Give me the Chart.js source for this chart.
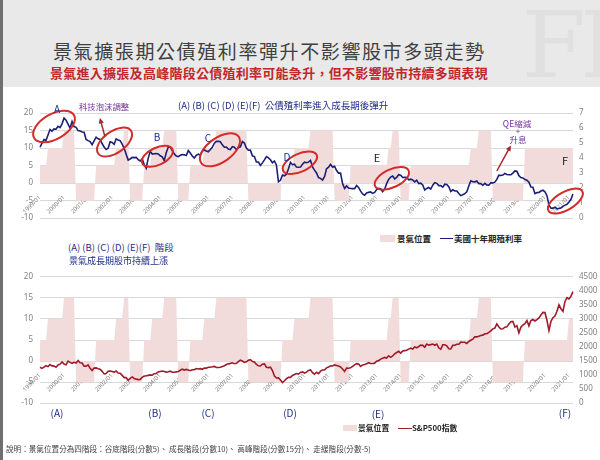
<!DOCTYPE html>
<html>
<head>
<meta charset="utf-8">
<script src="https://cdn.jsdelivr.net/npm/chart.js@4.4.0/dist/chart.umd.min.js"></script>
<style>
  body { margin: 0; width: 600px; height: 460px; overflow: hidden; background: #fff; position: relative;
         font-family: "Noto Sans CJK TC", "Noto Sans", sans-serif; }
  #band { position: absolute; left: 0; top: 0; width: 600px; height: 87px; background: #e9e9e9; }
  #edge { position: absolute; left: 0; top: 0; width: 3px; height: 460px; background: #6f6f6f; }
  #mark { position: absolute; left: 522px; top: -8px; font: 92px "DejaVu Serif", serif; color: rgba(0,0,0,0.035); letter-spacing: -6px; }
  .t { position: absolute; white-space: nowrap; line-height: 1; transform: translateY(-50%); }
  .c { transform: translate(-50%, -50%); }
  .navy { color: #1f2d86; }
  .purple { color: #7030a0; }
  .leg { font-weight: bold; color: #262626; }
  canvas { position: absolute; left: 0; }
</style>
</head>
<body>
<div id="band"></div>
<div id="mark">FH</div>
<div id="edge"></div>

<div class="t" style="left:53px;top:50px;font-size:19px;letter-spacing:1.6px;color:#404040">景氣擴張期公債殖利率彈升不影響股市多頭走勢</div>
<div class="t" style="left:50px;top:71.5px;font-size:13px;font-weight:bold;letter-spacing:0.27px;color:#c1272d">景氣進入擴張及高峰階段公債殖利率可能急升，但不影響股市持續多頭表現</div>

<canvas id="top-chart" width="600" height="130" style="top:100px"></canvas>
<canvas id="bottom-chart" width="600" height="150" style="top:265px"></canvas>

<!-- top chart notes -->
<div class="t navy" style="left:178px;top:106px;font-size:9.5px">(A) (B) (C) (D) (E)(F)&nbsp; 公債殖利率進入成長期後彈升</div>
<div class="t purple" style="left:79px;top:106px;font-size:8.4px">科技泡沫調整</div>
<div class="t c navy" style="left:57px;top:109px;font-size:10px">A</div>
<div class="t c navy" style="left:157px;top:137px;font-size:10px">B</div>
<div class="t c navy" style="left:208px;top:138px;font-size:10px">C</div>
<div class="t c navy" style="left:287px;top:157px;font-size:10px">D</div>
<div class="t c" style="left:377px;top:157px;font-size:11px;color:#222">E</div>
<div class="t c" style="left:565px;top:160px;font-size:11px;color:#222">F</div>
<div class="t c purple" style="left:517px;top:123px;font-size:8.5px">QE縮減</div>
<div class="t c purple" style="left:518px;top:131px;font-size:8px">+</div>
<div class="t c purple" style="left:518px;top:139px;font-size:8.5px">升息</div>

<div style="position:absolute;left:380px;top:235px;width:15px;height:7px;background:#f2dcdb"></div>
<div class="t leg" style="left:397px;top:238px;font-size:8.5px">景氣位置</div>
<div style="position:absolute;left:440px;top:237.5px;width:13px;height:1.6px;background:#1a1f78"></div>
<div class="t leg" style="left:454px;top:238px;font-size:8.5px">美國十年期殖利率</div>

<!-- bottom chart notes -->
<div class="t navy" style="left:68px;top:248px;font-size:9.5px">(A) (B) (C) (D) (E)(F)&nbsp; 階段</div>
<div class="t navy" style="left:69px;top:260px;font-size:9px">景氣成長期股市持續上漲</div>
<div class="t c navy" style="left:57px;top:413px;font-size:10px">(A)</div>
<div class="t c navy" style="left:155px;top:413px;font-size:10px">(B)</div>
<div class="t c navy" style="left:208px;top:413px;font-size:10px">(C)</div>
<div class="t c navy" style="left:290px;top:413px;font-size:10px">(D)</div>
<div class="t c navy" style="left:378px;top:414px;font-size:10px">(E)</div>
<div class="t c navy" style="left:565px;top:413px;font-size:10px">(F)</div>

<div style="position:absolute;left:343px;top:425px;width:14px;height:6px;background:#f2dcdb"></div>
<div class="t leg" style="left:358px;top:428px;font-size:7.8px">景氣位置</div>
<div style="position:absolute;left:398px;top:427.5px;width:14px;height:1.6px;background:#9e1b2a"></div>
<div class="t leg" style="left:412px;top:428px;font-size:7.8px">S&amp;P500指數</div>

<div class="t" style="left:6px;top:449px;font-size:7.6px;color:#404040">說明：景氣位置分為四階段：谷底階段(分數5)、 成長階段(分數10)、 高峰階段(分數15分)、 走緩階段(分數-5)</div>

<script>
// monthly categories 1999/01 .. 2021/03
const months = [];
for (let y = 1999; y <= 2021; y++) {
  for (let m = 1; m <= 12; m++) {
    if (y === 2021 && m > 3) break;
    months.push(`${y}/${String(m).padStart(2, '0')}`);
  }
}

// US 10y treasury yield, monthly (%)
const yield10y = [
  4.72, 5.00, 5.23, 5.18, 5.54, 5.90, 5.79, 5.94, 5.92, 6.11, 6.03, 6.28,
  6.66, 6.52, 6.26, 5.99, 6.44, 6.10, 6.05, 5.83, 5.80, 5.74, 5.72, 5.24,
  5.16, 5.10, 4.89, 5.14, 5.39, 5.28, 5.24, 4.97, 4.73, 4.57, 4.65, 5.09,
  5.04, 4.91, 5.28, 5.21, 5.16, 4.93, 4.65, 4.26, 3.87, 3.94, 4.05, 4.03,
  4.05, 3.90, 3.81, 3.96, 3.57, 3.33, 3.98, 4.45, 4.27, 4.29, 4.30, 4.27,
  4.15, 4.08, 3.83, 4.35, 4.72, 4.73, 4.50, 4.28, 4.13, 4.10, 4.19, 4.23,
  4.22, 4.17, 4.50, 4.34, 4.14, 4.00, 4.18, 4.26, 4.20, 4.46, 4.54, 4.47,
  4.42, 4.57, 4.72, 4.99, 5.11, 5.11, 5.09, 4.88, 4.72, 4.73, 4.60, 4.56,
  4.76, 4.72, 4.56, 4.69, 4.75, 5.10, 5.00, 4.67, 4.52, 4.53, 4.15, 4.10,
  3.74, 3.74, 3.51, 3.68, 3.88, 4.10, 4.01, 3.89, 3.69, 3.81, 3.53, 2.42,
  2.52, 2.87, 2.82, 2.93, 3.29, 3.72, 3.56, 3.59, 3.40, 3.39, 3.40, 3.59,
  3.73, 3.69, 3.73, 3.85, 3.42, 3.20, 3.01, 2.70, 2.65, 2.54, 2.76, 3.29,
  3.39, 3.58, 3.41, 3.46, 3.17, 3.00, 3.00, 2.30, 1.98, 2.15, 2.01, 1.98,
  1.97, 1.97, 2.17, 2.05, 1.80, 1.62, 1.53, 1.68, 1.72, 1.75, 1.65, 1.72,
  1.91, 1.98, 1.96, 1.76, 1.93, 2.30, 2.58, 2.74, 2.81, 2.62, 2.72, 2.90,
  2.86, 2.71, 2.72, 2.71, 2.56, 2.60, 2.54, 2.42, 2.53, 2.30, 2.33, 2.21,
  1.88, 1.98, 2.04, 1.94, 2.20, 2.36, 2.32, 2.17, 2.17, 2.07, 2.26, 2.24,
  2.09, 1.78, 1.89, 1.81, 1.81, 1.64, 1.50, 1.56, 1.63, 1.76, 2.14, 2.49,
  2.43, 2.42, 2.48, 2.30, 2.30, 2.19, 2.32, 2.21, 2.20, 2.36, 2.35, 2.40,
  2.58, 2.86, 2.84, 2.87, 2.98, 2.91, 2.89, 2.89, 3.00, 3.15, 3.12, 2.83,
  2.71, 2.68, 2.57, 2.53, 2.40, 2.07, 2.06, 1.63, 1.70, 1.71, 1.81, 1.86,
  1.76, 1.50, 0.87, 0.66, 0.67, 0.73, 0.62, 0.65, 0.68, 0.79, 0.87, 0.93,
  1.08, 1.26, 1.61
];

// S&P 500, monthly
const sp500 = [
  1279, 1238, 1286, 1335, 1302, 1373, 1329, 1320, 1283, 1363, 1389, 1469,
  1394, 1366, 1499, 1452, 1421, 1455, 1431, 1518, 1437, 1429, 1315, 1320,
  1366, 1240, 1160, 1249, 1256, 1224, 1211, 1134, 1041, 1060, 1139, 1148,
  1130, 1107, 1147, 1076, 1067, 990, 912, 916, 815, 886, 936, 880,
  856, 841, 848, 917, 964, 975, 990, 1008, 996, 1051, 1058, 1112,
  1131, 1145, 1126, 1107, 1121, 1141, 1102, 1104, 1115, 1130, 1174, 1212,
  1181, 1204, 1181, 1157, 1192, 1191, 1234, 1220, 1229, 1207, 1249, 1248,
  1280, 1281, 1295, 1311, 1270, 1270, 1277, 1304, 1336, 1378, 1401, 1418,
  1438, 1407, 1421, 1482, 1531, 1503, 1455, 1474, 1527, 1549, 1481, 1468,
  1378, 1331, 1323, 1386, 1400, 1280, 1267, 1283, 1165, 969, 896, 903,
  826, 735, 798, 873, 919, 919, 987, 1021, 1057, 1036, 1096, 1115,
  1074, 1104, 1169, 1187, 1089, 1031, 1102, 1049, 1141, 1183, 1181, 1258,
  1286, 1327, 1326, 1364, 1345, 1321, 1292, 1219, 1131, 1253, 1247, 1258,
  1312, 1366, 1408, 1398, 1310, 1362, 1379, 1407, 1441, 1412, 1416, 1426,
  1498, 1515, 1569, 1598, 1631, 1606, 1686, 1633, 1682, 1757, 1806, 1848,
  1783, 1859, 1872, 1884, 1924, 1960, 1931, 2003, 1972, 2018, 2068, 2059,
  1995, 2105, 2068, 2086, 2107, 2063, 2104, 1972, 1920, 2079, 2080, 2044,
  1940, 1932, 2060, 2065, 2097, 2099, 2174, 2171, 2168, 2126, 2199, 2239,
  2279, 2364, 2363, 2384, 2412, 2423, 2470, 2472, 2519, 2575, 2648, 2674,
  2824, 2714, 2641, 2648, 2705, 2718, 2816, 2902, 2914, 2711, 2760, 2507,
  2704, 2784, 2834, 2946, 2752, 2942, 2980, 2926, 2977, 3038, 3141, 3231,
  3226, 2954, 2585, 2912, 3044, 3100, 3271, 3500, 3363, 3270, 3622, 3756,
  3714, 3811, 3973
];

// business-cycle position: [score, number of months]
const phaseRunsBottom = [
  [5, 4], [10, 8], [15, 6], [-5, 10], [5, 10], [10, 4], [15, 3], [-5, 7],
  [5, 4], [10, 6], [15, 7], [-5, 6], [5, 7], [10, 6], [15, 16], [-5, 17],
  [5, 6], [10, 8], [15, 12], [-5, 8], [5, 19], [10, 2], [15, 4], [-5, 5],
  [5, 30], [10, 4], [15, 7], [-5, 16], [5, 22], [10, 3]
];
// the upper chart ends with a single growth block
const phaseRunsTop = phaseRunsBottom.slice(0, -2).concat([[10, 25]]);

const leftTicks = [-10, 20, 5];
const yieldTicks = [0, 7, 1];
const spTicks = [0, 4500, 500];

// red circles and arrows on the yield chart: [month index, yield]
const rings = [
  { i: 7.0, v: 6.10, rx: 23, ry: 12.5, rot: -30 },
  { i: 37.2, v: 5.07, rx: 20, ry: 10.8, rot: -35 },
  { i: 58.6, v: 4.12, rx: 16.6, ry: 8.6, rot: -25 },
  { i: 89.8, v: 4.55, rx: 22.9, ry: 12.2, rot: -35 },
  { i: 129.7, v: 3.69, rx: 18.5, ry: 9, rot: -25 },
  { i: 175.6, v: 2.65, rx: 18.5, ry: 9, rot: -25 },
  { i: 262.2, v: 1.14, rx: 19.5, ry: 9, rot: -30 }
];
const arrows = [
  { from: [32.4, 5.43], to: [29.9, 6.67] },
  { from: [228, 3.14], to: [235, 4.84] }
];

const PINK = '#f2dcdb';
const GRID = '#d9d9d9';
const TICK = '#808080';

function expandRuns(runs) {
  const out = [];
  runs.forEach(([level, n]) => { for (let k = 0; k < n; k++) out.push(level); });
  return out;
}

const marksPlugin = {
  id: 'marks',
  afterDatasetsDraw(chart, args, opts) {
    if (!opts.rings) return;
    const { ctx, scales } = chart;
    const px = i => scales.x.getPixelForValue(i);
    const py = v => scales.yR.getPixelForValue(v);
    ctx.save();
    ctx.strokeStyle = '#d42b2b';
    ctx.lineWidth = 2;
    opts.rings.forEach(r => {
      ctx.beginPath();
      ctx.ellipse(px(r.i), py(r.v), r.rx, r.ry, r.rot * Math.PI / 180, 0, Math.PI * 2);
      ctx.stroke();
    });
    ctx.strokeStyle = '#a8232b';
    ctx.fillStyle = '#a8232b';
    ctx.lineWidth = 1.5;
    opts.arrows.forEach(a => {
      const x0 = px(a.from[0]), y0 = py(a.from[1]);
      const x1 = px(a.to[0]), y1 = py(a.to[1]);
      const ang = Math.atan2(y1 - y0, x1 - x0);
      ctx.beginPath();
      ctx.moveTo(x0, y0);
      ctx.lineTo(x1 - 4 * Math.cos(ang), y1 - 4 * Math.sin(ang));
      ctx.stroke();
      ctx.beginPath();
      ctx.moveTo(x1, y1);
      ctx.lineTo(x1 - 6 * Math.cos(ang - 0.45), y1 - 6 * Math.sin(ang - 0.45));
      ctx.lineTo(x1 - 6 * Math.cos(ang + 0.45), y1 - 6 * Math.sin(ang + 0.45));
      ctx.closePath();
      ctx.fill();
    });
    ctx.restore();
  }
};

function chartOptions(rightTicks, padTop, padBottom, marks) {
  const tickFont = { family: 'Noto Sans', size: 8 };
  return {
    responsive: false,
    animation: false,
    events: [],
    layout: { padding: { top: padTop, bottom: padBottom, left: 0, right: 0 } },
    plugins: { legend: { display: false }, tooltip: { enabled: false }, marks: marks },
    scales: {
      x: {
        position: { y: 0 },
        grid: { display: false },
        border: { display: false },
        ticks: {
          autoSkip: false, minRotation: 45, maxRotation: 45, padding: 3,
          color: TICK, font: { family: 'Noto Sans', size: 6 },
          callback: (v, i) => months[i].endsWith('/01') ? months[i] : ''
        }
      },
      y: {
        position: 'left', min: leftTicks[0], max: leftTicks[1],
        ticks: { stepSize: leftTicks[2], padding: 7, color: TICK, font: tickFont },
        grid: { color: GRID, drawTicks: false },
        border: { display: false },
        afterFit: s => { s.width = 40; }
      },
      yR: {
        position: 'right', min: rightTicks[0], max: rightTicks[1],
        ticks: { stepSize: rightTicks[2], padding: 6, color: TICK, font: tickFont, callback: v => String(v) },
        grid: { display: false, drawTicks: false },
        border: { display: false },
        afterFit: s => { s.width = 27; }
      }
    }
  };
}

new Chart(document.getElementById('top-chart'), {
  type: 'line',
  data: {
    labels: months,
    datasets: [
      { label: '美國十年期殖利率', data: yield10y, yAxisID: 'yR', borderColor: '#1a1f78',
        borderWidth: 1.6, pointRadius: 0, tension: 0, order: 1 },
      { label: '景氣位置', data: expandRuns(phaseRunsTop), yAxisID: 'y', borderWidth: 0,
        backgroundColor: PINK, fill: 'origin', pointRadius: 0, order: 2 }
    ]
  },
  options: chartOptions(yieldTicks, 13, 10, { rings: rings, arrows: arrows }),
  plugins: [marksPlugin]
});

new Chart(document.getElementById('bottom-chart'), {
  type: 'line',
  data: {
    labels: months,
    datasets: [
      { label: 'S&P500指數', data: sp500, yAxisID: 'yR', borderColor: '#9e1b2a',
        borderWidth: 1.6, pointRadius: 0, tension: 0, order: 1 },
      { label: '景氣位置', data: expandRuns(phaseRunsBottom), yAxisID: 'y', borderWidth: 0,
        backgroundColor: PINK, fill: 'origin', pointRadius: 0, order: 2 }
    ]
  },
  options: chartOptions(spTicks, 11, 9, {}),
  plugins: [marksPlugin]
});
</script>
</body>
</html>
